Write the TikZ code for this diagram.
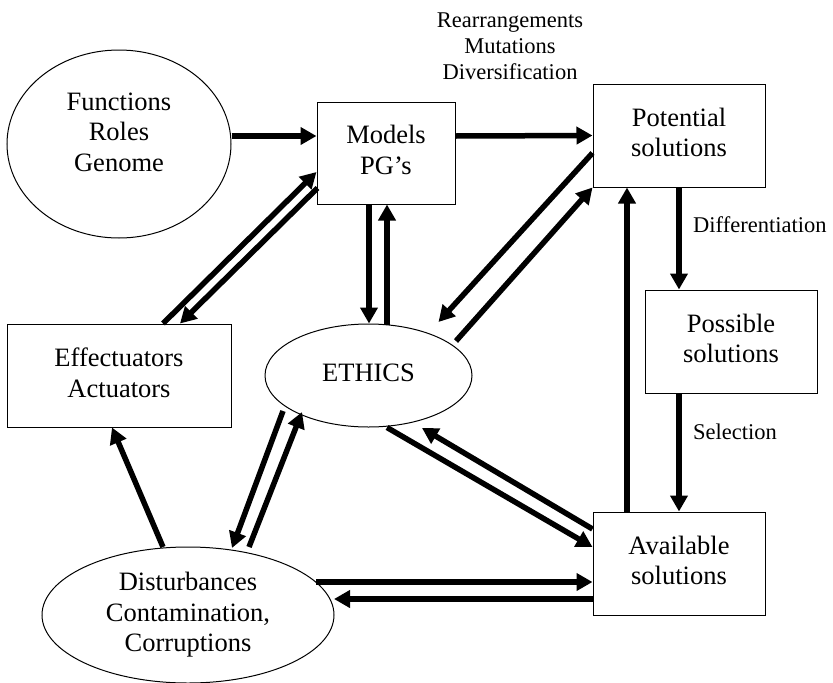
\documentclass[tikz,border=0pt]{standalone}
\usepackage{fontspec}
\setmainfont{Liberation Serif}
\usetikzlibrary{shapes.geometric,arrows.meta,calc}
\begin{document}
\begin{tikzpicture}[x=1pt,y=-1pt,
  mainfont/.style={font=\fontsize{26.5}{30.5}\selectfont},
  box/.style={draw,line width=1pt,rectangle,inner sep=0pt,align=center,mainfont,text depth=6pt},
  oval/.style={draw,line width=1pt,ellipse,inner sep=0pt,align=center,mainfont},
  arr/.style={line width=5.5pt,-{Triangle[length=16pt,width=17pt]}},
  lbl/.style={font=\fontsize{22.5}{26}\selectfont,align=center,inner sep=0pt}]
\useasboundingbox (0,0) rectangle (833,683);

% shapes
\node[oval,minimum width=224pt,minimum height=188pt] (func) at (119,144) {};
\node[mainfont,align=center,inner sep=0pt] (functxt) at (119,132) {Functions\\Roles\\Genome};
\node[box,minimum width=138pt,minimum height=102pt] (models) at (386,153) {Models\\PG’s};
\node[box,minimum width=172pt,minimum height=103pt] (pot) at (679,135.5) {Potential\\solutions};
\node[box,minimum width=172pt,minimum height=103pt] (poss) at (731,341.5) {Possible\\solutions};
\node[box,minimum width=172pt,minimum height=103pt] (avail) at (679,563.5) {Available\\solutions};
\node[box,minimum width=224pt,minimum height=103pt] (eff) at (119,375.5) {Effectuators\\Actuators};
\node[oval,minimum width=207pt,minimum height=103pt,text depth=6pt] (eth) at (368.5,375.5) {ETHICS};
\node[oval,minimum width=292pt,minimum height=136pt] (dist) at (188,615) {Disturbances\\Contamination,\\Corruptions};

% labels
\node[lbl] (rmd) at (510,46) {Rearrangements\\Mutations\\Diversification};
\node[lbl,anchor=base west] (diff) at (693,232) {Differentiation};
\node[lbl,anchor=base west] (sel) at (693,439) {Selection};

% connectors
\draw[arr] ($(func.east)+(0,-8)$) -- ($(models.west)+(0,-17)$);
\draw[arr] ($(models.east)+(0,-17)$) -- (pot.west);
\draw[arr] (pot.south) -- (pot.south |- poss.north);
\draw[arr] (avail.north |- poss.south) -- (avail.north);
\draw[arr] ($(avail.north)+(-52,0)$) -- ($(pot.south)+(-52,0)$);

\draw[arr] ($(eff.north)+(44,0)$) -- ($(models.west)+(0,19)$);
\draw[arr] ($(models.west)+(1,35)$) -- ($(eff.north)+(61,0)$);

\draw[arr] ($(models.south)+(-17,0)$) -- ($(eth.north)+(0.5,0)$);
\draw[arr] ($(eth.north)+(18.5,1)$) -- ($(models.south)+(1,0)$);

\draw[arr] ($(pot.west)+(0,17.5)$) -- ($(eth.center)+(70,-53.5)$);
\draw[arr] ($(eth.center)+(87.5,-34.5)$) -- (pot.south west);

\draw[arr] ($(eth.south)+(18.5,0)$) -- ($(avail.west)+(0,-16.5)$);
\draw[arr] ($(avail.west)+(0,-34.5)$) -- ($(eth.center)+(53.5,52.5)$);

\draw[arr] ($(dist.center)+(128,-33)$) -- ($(avail.west)+(0,18.5)$);
\draw[arr] ($(avail.west)+(0,35.5)$) -- ($(dist.center)+(146,-16)$);

\draw[arr] ($(dist.center)+(-25,-68)$) -- ($(eff.south)+(-7,0)$);

\draw[arr] ($(eth.center)+(-85.5,35.5)$) -- ($(dist.center)+(44,-67)$);
\draw[arr] ($(dist.center)+(61,-68)$) -- ($(eth.center)+(-66.5,36.5)$);
\end{tikzpicture}
\end{document}
